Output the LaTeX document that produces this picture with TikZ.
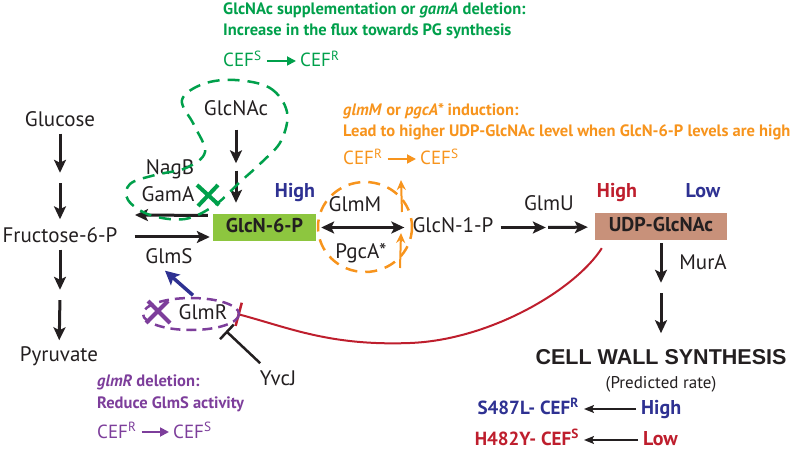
\documentclass[tikz,border=0pt]{standalone}
\usepackage{fontspec}
\setmainfont{PT Sans}
\newfontfamily\arialfont{Liberation Sans}
\usetikzlibrary{arrows.meta}
\definecolor{ink}{RGB}{35,31,32}
\definecolor{leafgreen}{RGB}{141,198,63}
\definecolor{clay}{RGB}{200,145,122}
\definecolor{notegreen}{RGB}{0,160,75}
\definecolor{noteorange}{RGB}{247,148,29}
\definecolor{notepurple}{RGB}{125,62,155}
\definecolor{navy}{RGB}{46,49,146}
\definecolor{crimson}{RGB}{190,30,45}
\begin{document}
\begin{tikzpicture}[x=1pt,y=-1pt]
	\tikzstyle{lbl} = [inner sep=3pt, text=ink, text height=15pt, text depth=4pt, font=\fontsize{21}{24}\selectfont];
	\tikzstyle{lvl} = [inner sep=2pt, text height=14pt, text depth=4pt, font=\bfseries\fontsize{20}{24}\selectfont];
	\tikzstyle{note} = [anchor=west, inner sep=0pt, font=\bfseries\fontsize{16.5}{19}\selectfont];
	\tikzstyle{cef} = [anchor=west, inner sep=0pt, text height=15pt, text depth=3pt, font=\fontsize{19}{22}\selectfont];
	\tikzstyle{gap} = [inner sep=0pt, minimum size=10pt];
	\tikzstyle{flow} = [draw=ink, line width=3pt, -{Stealth[length=13pt,width=12pt,inset=3pt]}];
	\tikzstyle{swap} = [draw=ink, line width=3pt, {Stealth[length=13pt,width=12pt,inset=3pt]}-{Stealth[length=13pt,width=12pt,inset=3pt]}];
	\tikzstyle{thinflow} = [draw=ink, line width=1.5pt, -{Stealth[length=10pt,width=8pt,inset=2pt]}];
	\tikzstyle{cefarrow} = [line width=1.8pt, -{Triangle[length=9pt,width=9pt]}, shorten <=5pt, shorten >=4pt];
	\tikzstyle{ring} = [line width=2.5pt, dash pattern=on 12pt off 8pt];
	\useasboundingbox (0,0) rectangle (800,454);

	\node[lbl,name=glucose] at (60,121) {Glucose};
	\node[gap,name=g1] at (60,178) {};
	\node[lbl,name=fructose] at (60,237) {Fructose-6-P};
	\node[gap,name=f1] at (60,295) {};
	\node[lbl,name=pyruvate] at (59,356) {Pyruvate};
	\foreach \a/\b in {glucose/g1,fructose/f1}
		\draw[flow] (\a) -- (\b);
	\draw[flow, shorten >=5pt] (g1) -- (fructose);
	\draw[flow, shorten >=3pt] (f1) -- (pyruvate);

	\node[lbl,name=glcnac] at (236,110) {GlcNAc};
	\node[gap,name=n1,minimum size=7pt] at (236,167) {};
	\node[lbl,name=nagb] at (170,169) {NagB};
	\node[lbl,name=gama] at (168,196) {GamA};
	\node[lbl,name=glms] at (169,258) {GlmS};
	\node[lbl, fill=leafgreen, minimum width=103pt, minimum height=27pt, font=\bfseries\fontsize{20}{24}\selectfont, name=glcn6p] at (264.5,227.5) {GlcN-6-P};
	\coordinate (nagend) at (135,215);
	\draw[flow, shorten <=7pt] (glcnac) -- (n1);
	\draw[flow, shorten >=11pt] (n1) -- (n1 |- glcn6p.north);
	\draw[flow, shorten <=5pt] ([yshift=12pt]glcn6p.west) -- (nagend);
	\draw[flow, shorten <=14pt, shorten >=3pt] (fructose) -- (fructose -| glcn6p.west);

	\node[lvl, text=navy, name=high1] at (295,193) {High};
	\node[lbl,name=glmm] at (355,206) {GlmM};
	\node[lbl,name=pgca] at (361,253) {PgcA*};
	\node[lbl,name=glcn1p] at (453,227.5) {GlcN-1-P};
	\node[lbl,name=glmu] at (549,205) {GlmU};
	\node[gap,name=u1,minimum size=2pt] at (547,227.5) {};
	\node[lbl, fill=clay, minimum width=132pt, minimum height=27pt, font=\bfseries\fontsize{20}{24}\selectfont, name=udp] at (661,226.5) {UDP-GlcNAc};
	\draw[swap, shorten <=5pt, shorten >=5pt] (glcn6p) -- (glcn1p);
	\draw[flow, shorten <=4pt] (glcn1p) -- (u1);
	\draw[flow, shorten >=7pt] (u1) -- (udp);

	\node[lvl, text=crimson, name=high2] at (617,193) {High};
	\node[lvl, text=navy, name=low1] at (703,193) {Low};
	\node[lbl,name=mura] at (703,264) {MurA};
	\node[gap,name=m1] at (661,288) {};
	\node[inner sep=2pt, text=ink, font=\arialfont\bfseries\fontsize{21.5}{24}\selectfont, name=cws] at (661,357) {CELL WALL SYNTHESIS};
	\node[inner sep=1pt, text=ink, font=\fontsize{17}{20}\selectfont, name=rate] at (661,384) {(Predicted rate)};
	\draw[flow, shorten <=3pt] (udp) -- (m1);
	\draw[flow, shorten >=14pt] (m1) -- (cws);

	\node[lvl, anchor=east, text=navy, font=\bfseries\fontsize{19}{22}\selectfont, name=s487] at (581,409) {S487L- CEF\textsuperscript{R}};
	\node[lvl, anchor=west, text=navy, name=hi3] at (639,409) {High};
	\node[lvl, anchor=east, text=crimson, font=\bfseries\fontsize{19}{22}\selectfont, name=h482] at (581,440) {H482Y- CEF\textsuperscript{S}};
	\node[lvl, anchor=west, text=crimson, name=lo2] at (641,440) {Low};
	\draw[thinflow, shorten <=3pt, shorten >=3pt] (hi3) -- (s487);
	\draw[thinflow, shorten <=3pt, shorten >=3pt] (lo2) -- (h482);

	\node[lbl,name=glmr] at (203,314) {GlmR};
	\node[lbl,name=yvcj] at (278,380) {YvcJ};
	\coordinate (yvcjbar) at (226,331);
	\draw[navy, line width=3.5pt, -{Stealth[length=14pt,width=14pt,inset=3pt]}] ([shift={(-10pt,6pt)}]glmr.north) -- ([xshift=-4pt]glms.south);
	\draw[ink, line width=2.5pt, -{Bar[width=20pt,line width=2.5pt]}, shorten <=6pt] (yvcj) -- (yvcjbar);
	\draw[crimson, line width=2pt, -{Bar[width=24pt,line width=2.5pt]}] ([shift={(7pt,-8pt)}]udp.south west) .. controls (575,290) and (490,340) .. (410,343) .. controls (330,346) and (290,328) .. ([xshift=7pt]glmr.east);

	\draw[notegreen, ring] plot[smooth cycle, tension=0.6] coordinates {(235,80) (270,88) (287,112) (281,141) (262,162) (240,182) (215,205) (185,219) (150,215) (128,200) (130,184) (155,175) (186,168) (205,152) (194,125) (182,100) (203,84)};
	\draw[notegreen, line width=4pt] (197,185) -- (219,205) (198,206) -- (218,185);
	\draw[noteorange, ring] (365,227) ellipse [x radius=47, y radius=45];
	\draw[noteorange, line width=2pt, -{Stealth[length=10pt,width=9pt]}] (402,212) -- (401,180);
	\draw[noteorange, line width=2pt, -{Stealth[length=10pt,width=9pt]}] (400,268) -- (401,233);
	\draw[notepurple, ring, dash pattern=on 10pt off 6pt] (191,314) ellipse [x radius=48, y radius=16];
	\draw[notepurple, line width=4pt] (148,301) -- (170,323) (146,323) -- (168,301);

	\node[note, text=notegreen, name=greenA] at (223,10) {GlcNAc supplementation or \textit{gamA} deletion:};
	\node[note, text=notegreen, name=greenB] at (223,31) {Increase in the flux towards PG synthesis};
	\node[cef, text=notegreen, name=greenS] at (223,61) {CEF\textsuperscript{S}};
	\node[cef, text=notegreen, name=greenR] at (300,61) {CEF\textsuperscript{R}};
	\draw[notegreen, cefarrow] (greenS) -- (greenR);

	\node[note, text=noteorange, name=orangeA] at (343,111) {\textit{glmM} or \textit{pgcA*} induction:};
	\node[note, text=noteorange, name=orangeB] at (343,132) {Lead to higher UDP-GlcNAc level when GlcN-6-P levels are high};
	\node[cef, text=noteorange, name=orangeR] at (343,159) {CEF\textsuperscript{R}};
	\node[cef, text=noteorange, name=orangeS] at (420,159) {CEF\textsuperscript{S}};
	\draw[noteorange, cefarrow] (orangeR) -- (orangeS);

	\node[note, text=notepurple, name=purpleA] at (97,382) {\textit{glmR} deletion:};
	\node[note, text=notepurple, name=purpleB] at (97,404) {Reduce GlmS activity};
	\node[cef, text=notepurple, name=purpleR] at (97,432) {CEF\textsuperscript{R}};
	\node[cef, text=notepurple, name=purpleS] at (173,432) {CEF\textsuperscript{S}};
	\draw[notepurple, cefarrow] (purpleR) -- (purpleS);
\end{tikzpicture}
\end{document}
